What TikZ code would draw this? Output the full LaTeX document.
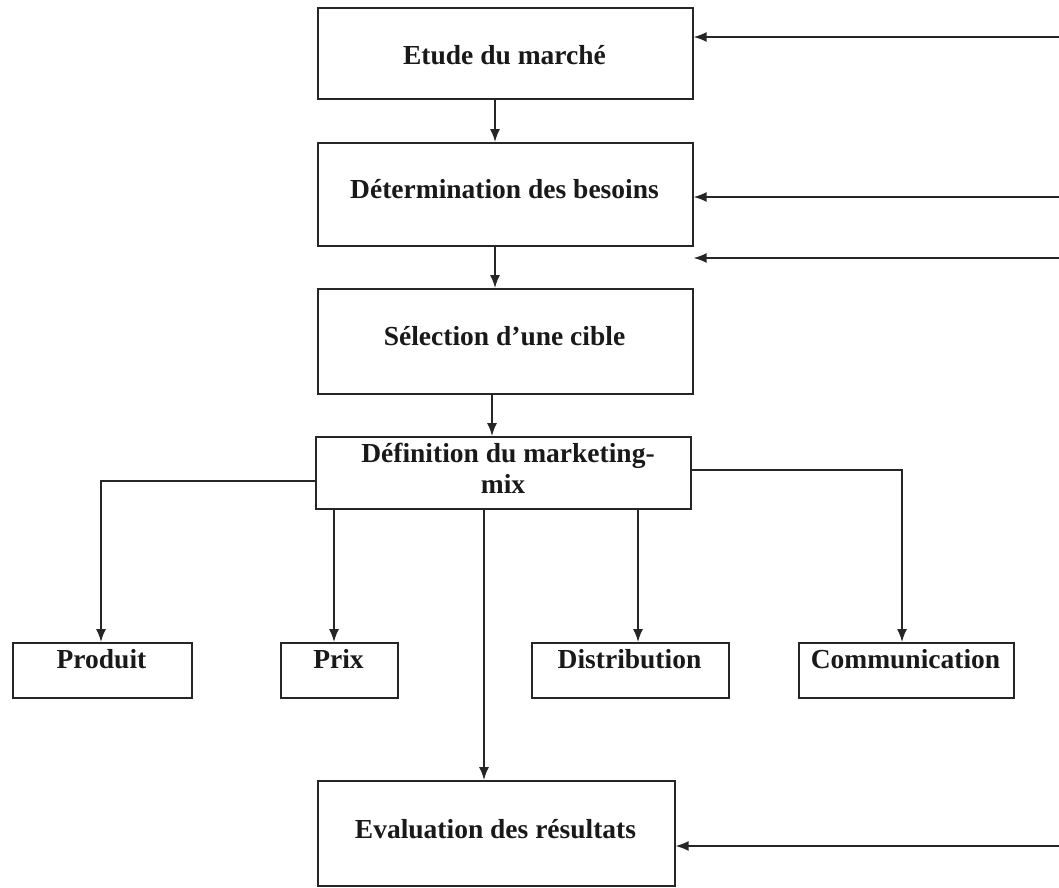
\documentclass[tikz,border=0pt]{standalone}
\usepackage{fontspec}
\setmainfont{Liberation Serif}
\usetikzlibrary{arrows.meta}
\begin{document}
\begin{tikzpicture}[x=1pt,y=-1pt,
  box/.style={draw=black!85, line width=1.6pt, inner sep=0pt, anchor=north west},
  lbl/.style={anchor=base, inner sep=0pt, font=\fontsize{27.5}{31}\selectfont\bfseries, text=black!90},
  arr/.style={line width=1.6pt, draw=black!85, -{Latex[length=13pt,width=10pt]}}]
\useasboundingbox (0,0) rectangle (1059,887);

% boxes
\node[box, minimum width=375pt, minimum height=91pt]  (b1) at (317,7) {};
\node[box, minimum width=375pt, minimum height=103pt] (b2) at (317,142) {};
\node[box, minimum width=375pt, minimum height=105pt] (b3) at (317,288) {};
\node[box, minimum width=375pt, minimum height=72pt]  (b4) at (315,436) {};
\node[box, minimum width=179pt, minimum height=55pt]  (prod) at (12,642) {};
\node[box, minimum width=117pt, minimum height=55pt]  (prix) at (280,642) {};
\node[box, minimum width=197pt, minimum height=55pt]  (dist) at (531,642) {};
\node[box, minimum width=215pt, minimum height=55pt]  (comm) at (798,642) {};
\node[box, minimum width=357pt, minimum height=105pt] (b5) at (317,780) {};

% texts
\node[lbl] (t1) at (504.5,64) {Etude du marché};
\node[lbl] (t2) at (504.5,198) {Détermination des besoins};
\node[lbl] (t3) at (504.5,345) {Sélection d’une cible};
\node[lbl] (t4a) at (508,462) {Définition du marketing-};
\node[lbl] (t4b) at (503,493) {mix};
\node[lbl] (tprod) at (101.5,668) {Produit};
\node[lbl] (tprix) at (338.5,668) {Prix};
\node[lbl] (tdist) at (629.5,668) {Distribution};
\node[lbl] (tcomm) at (905.5,668) {Communication};
\node[lbl] (t5) at (495.5,838) {Evaluation des résultats};

% helper coordinates
\coordinate (x495) at (495,0);
\coordinate (x492) at (492,0);
\coordinate (x484) at (484,0);
\coordinate (x334) at (334,0);
\coordinate (x638) at (638,0);
\coordinate (x101) at (101,0);
\coordinate (x902) at (902,0);
\coordinate (yP) at (0,481);
\coordinate (yC) at (0,470);
\coordinate (r1) at (1059,37);
\coordinate (r2) at (1059,197);
\coordinate (r3) at (1059,258);
\coordinate (r5) at (1059,846);

% vertical chain
\draw[arr] (b1.south -| x495) -- (b2.north -| x495);
\draw[arr] (b2.south -| x495) -- (b3.north -| x495);
\draw[arr] (b3.south -| x492) -- (b4.north -| x492);

% marketing mix branches
\draw[arr] (b4.west |- yP) -| (prod.north -| x101);
\draw[arr] (b4.south -| x334) -- (prix.north -| x334);
\draw[arr] (b4.south -| x638) -- (dist.north -| x638);
\draw[arr] (b4.east |- yC) -| (comm.north -| x902);
\draw[arr] (b4.south -| x484) -- (b5.north -| x484);

% feedback arrows from the right edge
\draw[arr] (r1) -- (b1.east |- r1);
\draw[arr] (r2) -- (b2.east |- r2);
\draw[arr] (r3) -- (b3.east |- r3);
\draw[arr] (r5) -- (b5.east |- r5);
\end{tikzpicture}
\end{document}
